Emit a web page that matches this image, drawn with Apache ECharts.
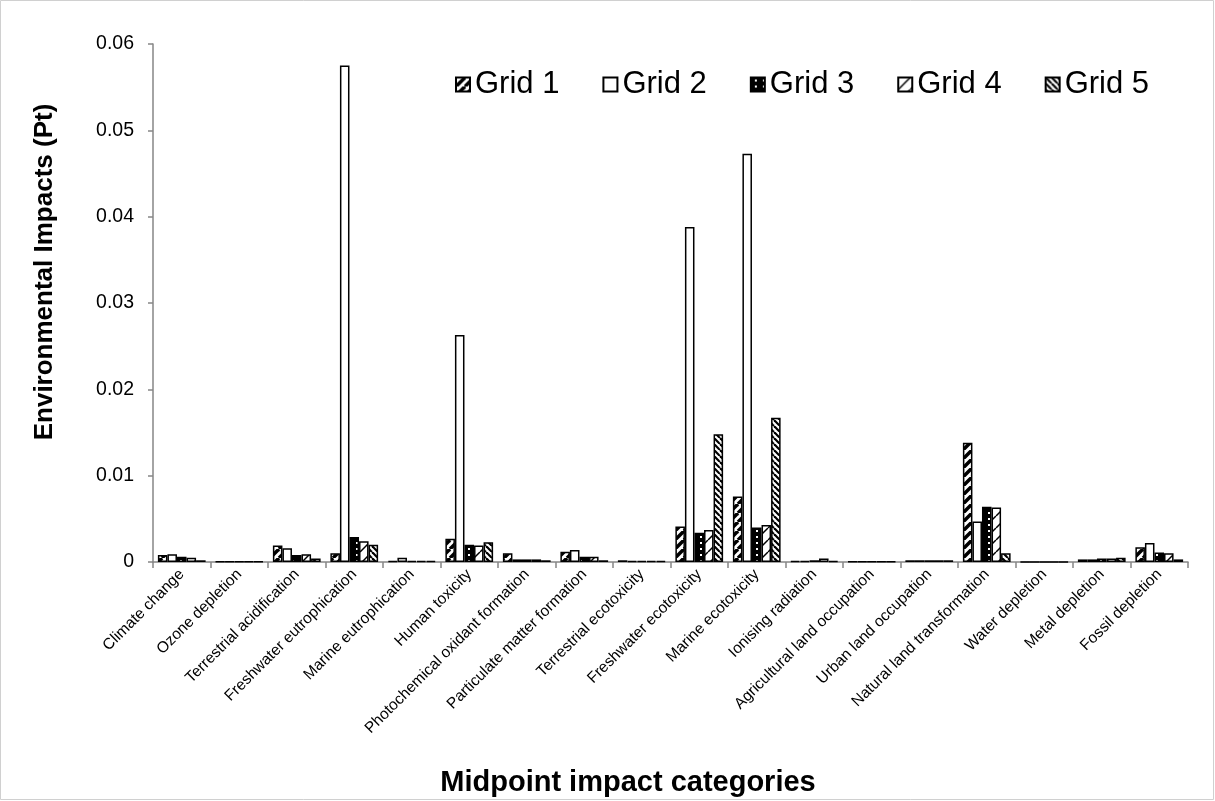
<!DOCTYPE html>
<html>
<head>
<meta charset="utf-8">
<script src="https://cdn.jsdelivr.net/npm/echarts@6/dist/echarts.min.js"></script>
<style>
html,body{margin:0;padding:0;background:#fff;}
#chart{width:1215px;height:801px;}
</style>
</head>
<body>
<div id="chart"></div>
<script>
const categories = ["Climate change","Ozone depletion","Terrestrial acidification","Freshwater eutrophication","Marine eutrophication","Human toxicity","Photochemical oxidant formation","Particulate matter formation","Terrestrial ecotoxicity","Freshwater ecotoxicity","Marine ecotoxicity","Ionising radiation","Agricultural land occupation","Urban land occupation","Natural land transformation","Water depletion","Metal depletion","Fossil depletion"];
const seriesNames = ["Grid 1","Grid 2","Grid 3","Grid 4","Grid 5"];
const grid1 = [0.0008,0.00003,0.0019,0.0010,0.0001,0.0027,0.0010,0.0012,0.0002,0.0041,0.0076,0.0001,0.00003,0.0002,0.0138,0,0.0003,0.0017];
const grid2 = [0.0009,0.00003,0.0016,0.0575,0.0005,0.0263,0.0003,0.0014,0.0001,0.0388,0.0473,0.0001,0.00003,0.0002,0.0047,0,0.0003,0.0022];
const grid3 = [0.0006,0.00003,0.0008,0.0029,0.0001,0.0020,0.0003,0.0006,0.0001,0.0034,0.0040,0.0002,0.00003,0.0002,0.0064,0,0.0004,0.0011];
const grid4 = [0.0005,0.00003,0.0009,0.0024,0.0001,0.0019,0.0003,0.0006,0.0001,0.0037,0.0043,0.0004,0.00003,0.0002,0.0063,0,0.0004,0.0010];
const grid5 = [0.0002,0.00003,0.0004,0.0020,0.0001,0.0023,0.0002,0.0002,0.0001,0.0148,0.0167,0.0001,0.00003,0.0002,0.0010,0,0.0005,0.0003];
const yTicks = {min:0, max:0.06, interval:0.01};

function tile(w,h,bg,draw){
  const c=document.createElement('canvas'); c.width=w; c.height=h;
  const ctx=c.getContext('2d'); ctx.fillStyle=bg; ctx.fillRect(0,0,w,h);
  draw(ctx,w,h); return c;
}
function fwd(n,lw){ // "/" stripes
  return tile(n,n,'#fff',function(ctx){
    ctx.strokeStyle='#000'; ctx.lineWidth=lw;
    for(let k=-1;k<=1;k++){ctx.beginPath();ctx.moveTo(k*n,n);ctx.lineTo(k*n+n,0);ctx.stroke();}
  });
}
function back(n,lw){ // "\" stripes
  return tile(n,n,'#fff',function(ctx){
    ctx.strokeStyle='#000'; ctx.lineWidth=lw;
    for(let k=-1;k<=1;k++){ctx.beginPath();ctx.moveTo(k*n,0);ctx.lineTo(k*n+n,n);ctx.stroke();}
  });
}
const dots = tile(8,6,'#000',function(ctx){ctx.fillStyle='#fff';ctx.fillRect(4,2,2,2);});
const fills = [
  {image:fwd(9,3.5),repeat:'repeat'},
  '#ffffff',
  {image:dots,repeat:'repeat'},
  {image:fwd(12,1.5),repeat:'repeat'},
  {image:back(6,2.2),repeat:'repeat'}
];
const dataSets=[grid1,grid2,grid3,grid4,grid5];
const font='"Liberation Sans", Arial, sans-serif';

const chart=echarts.init(document.getElementById('chart'),null,{renderer:'canvas'});
chart.setOption({
  animation:false,
  backgroundColor:'#fff',
  grid:{left:153,right:27,top:44,bottom:239,containLabel:false},
  legend:{
    data:seriesNames, left:450, top:64, icon:'rect', itemWidth:14, itemHeight:14, itemGap:43,
    textStyle:{fontSize:31,fontFamily:font,color:'#000'}
  },
  xAxis:{
    type:'category', data:categories,
    axisLine:{lineStyle:{color:'#868686',width:1.5}},
    axisTick:{show:true,alignWithLabel:false,length:6,lineStyle:{color:'#868686',width:1.5}},
    axisLabel:{interval:0,rotate:45,fontSize:15.5,fontFamily:font,color:'#000',margin:10}
  },
  yAxis:{
    type:'value', min:yTicks.min, max:yTicks.max, interval:yTicks.interval,
    splitLine:{show:false},
    axisLine:{show:true,lineStyle:{color:'#868686',width:1.5}},
    axisTick:{show:true,length:5,lineStyle:{color:'#868686',width:1.5}},
    axisLabel:{fontSize:19.5,fontFamily:font,color:'#000',margin:19}
  },
  graphic:[
    {type:'rect',shape:{x:0.5,y:0.5,width:1213,height:799},style:{fill:'none',stroke:'#d0d0d0',lineWidth:1},silent:true},
    {type:'text',x:628,y:783,style:{text:'Midpoint impact categories',fontSize:29,fontWeight:'bold',fontFamily:font,fill:'#000',align:'center',verticalAlign:'middle'}},
    {type:'text',x:45,y:272,rotation:Math.PI/2,style:{text:'Environmental Impacts (Pt)',fontSize:26,fontWeight:'bold',fontFamily:font,fill:'#000',align:'center',verticalAlign:'middle'}}
  ],
  series:seriesNames.map(function(n,i){
    return {name:n,type:'bar',data:dataSets[i],barGap:'0%',barCategoryGap:'17%',
      itemStyle:{color:fills[i],borderColor:'#000',borderWidth:1.5}};
  })
});
</script>
</body>
</html>
